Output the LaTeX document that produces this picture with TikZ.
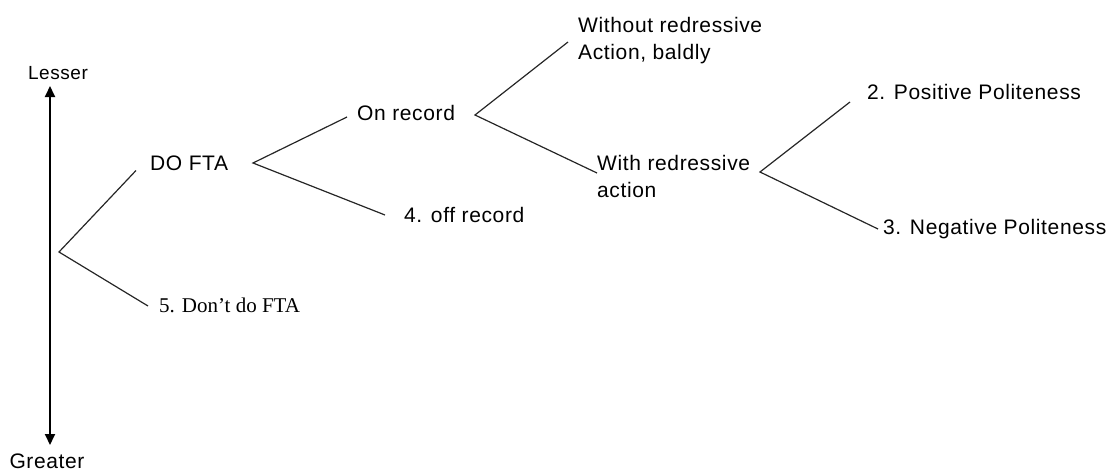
\documentclass[tikz,border=0pt]{standalone}
\usepackage{fontspec}
\setmainfont{Liberation Sans}[LetterSpace=3]
\newfontfamily\serifface{Liberation Serif}
\usetikzlibrary{arrows.meta,calc}
\begin{document}
\begin{tikzpicture}[x=1pt,y=-1pt,
  lbl/.style={inner sep=0pt,anchor=base west,font=\fontsize{21}{27}\selectfont,align=left},
  branch/.style={line width=1.2pt,black!85},
  axis/.style={line width=1.8pt,{Triangle[width=10pt,length=11pt]}-{Triangle[width=10pt,length=11pt]}}]
\useasboundingbox (0,0) rectangle (1111,471);
% axis
\node[inner sep=0pt,font=\fontsize{19}{23}\selectfont] (lesser) at (58,73) {Lesser};
\node[inner sep=0pt,font=\fontsize{21}{25}\selectfont] (greater) at (47,461) {Greater};
\coordinate (atop) at (50,86);
\coordinate (abot) at (50,445);
\draw[axis] (atop) -- (abot);
% branch points
\coordinate (root) at (59,252);
\coordinate (b1) at (253,163);
\coordinate (b2) at (475,115);
\coordinate (b3) at (760,172);
% labels
\node[lbl] (dofta) at (150,170.5) {DO FTA};
\node[lbl,font=\serifface\fontsize{21}{25}\selectfont] (dont) at (159,312) {5. Don’t do FTA};
\node[lbl] (onrec) at (357,120.5) {On record};
\node[lbl] (offrec) at (404,222.5) {4. off record};
\node[lbl] (without) at (578,59.5) {Without redressive\\Action, baldly};
\node[lbl] (with) at (597,197.5) {With redressive\\action};
\node[lbl] (pos) at (867,99.5) {2. Positive Politeness};
\node[lbl] (neg) at (883,234.5) {3. Negative Politeness};
% connectors
\draw[branch] ([xshift=-14pt]dofta.base west) -- (root) -- ([xshift=-11pt,yshift=6pt]dont.base west);
\draw[branch] ([xshift=-10pt,yshift=3.5pt]onrec.base west) -- (b1) -- ([xshift=-19pt,yshift=7.5pt]offrec.base west);
\draw[branch] ([xshift=-10pt,yshift=17.5pt]without.base west) -- (b2) -- ([yshift=24.5pt]with.base west);
\draw[branch] ([xshift=-17pt,yshift=-2.5pt]pos.base west) -- (b3) -- ([xshift=-5pt,yshift=5.5pt]neg.base west);
\end{tikzpicture}
\end{document}
